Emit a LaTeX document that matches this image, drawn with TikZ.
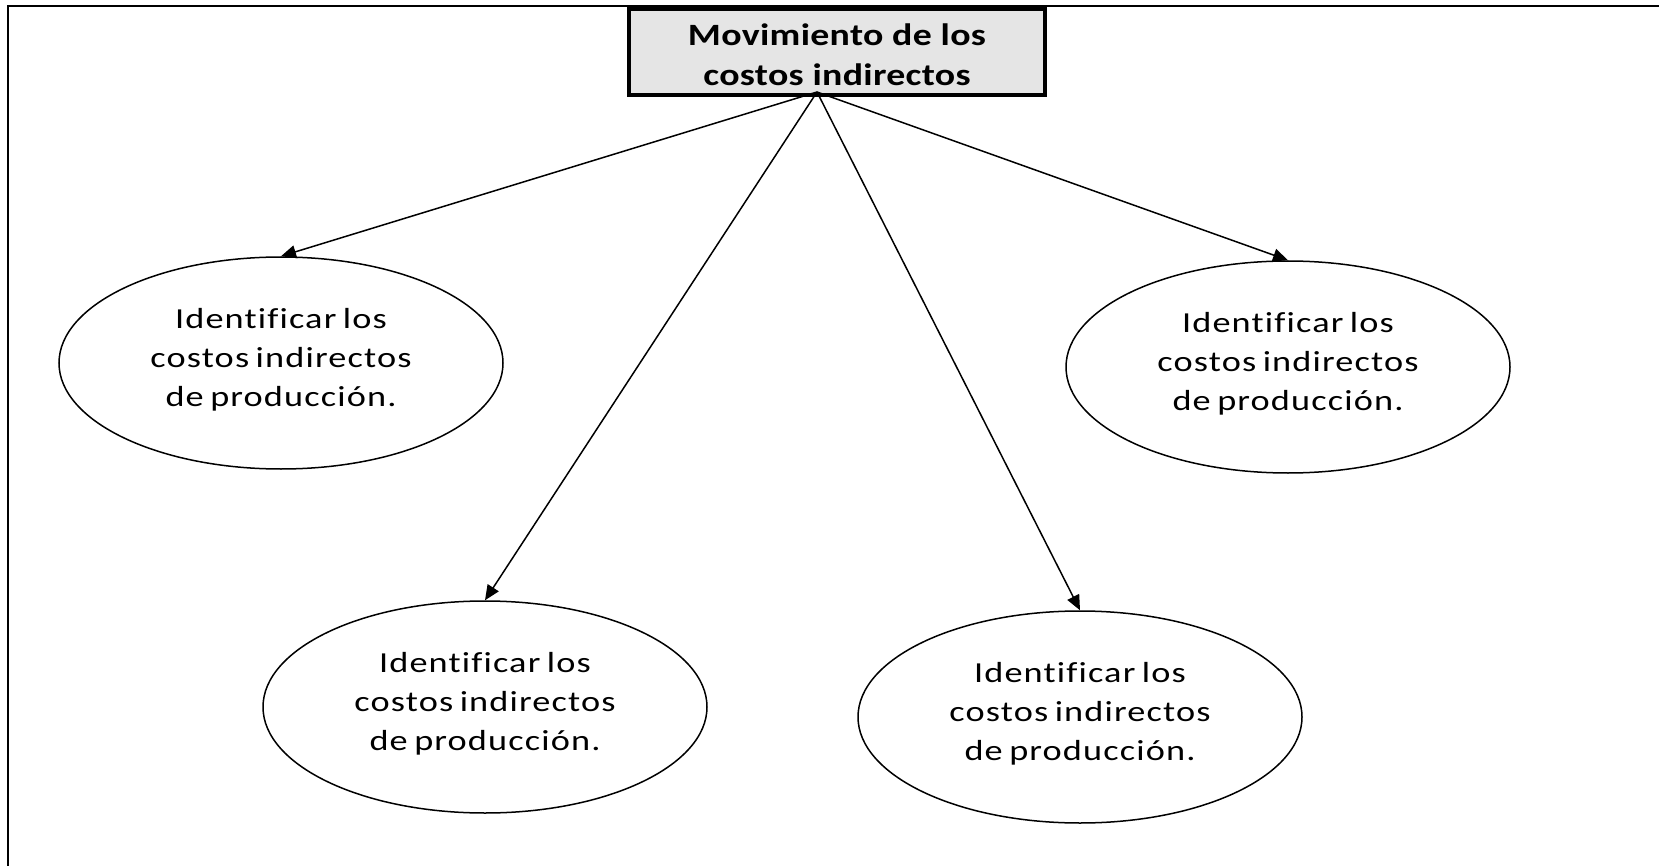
\documentclass[tikz,border=0pt]{standalone}
\usepackage{fontspec}
\setmainfont{Carlito}
\newfontfamily\ovalfont[FakeStretch=1.25,LetterSpace=4,WordSpace=0.7,Ligatures=NoCommon]{Carlito}
\newfontfamily\headfont[FakeStretch=1.22,LetterSpace=1,Ligatures=NoCommon]{Carlito}
\newcommand\lowstrut{\rule[-12pt]{0pt}{0pt}}
\usetikzlibrary{shapes.geometric,arrows.meta}
\begin{document}
\begin{tikzpicture}[x=1pt,y=-1pt,
  oval/.style={ellipse,draw,line width=1.5pt,minimum width=444pt,minimum height=212pt,inner sep=0pt,
    align=center,font=\ovalfont\fontsize{29}{39}\selectfont},
  titlebox/.style={draw,line width=3.5pt,fill=gray!20,minimum width=416pt,minimum height=86pt,inner sep=0pt,
    align=center,font=\headfont\bfseries\fontsize{31}{40}\selectfont},
  conn/.style={line width=1.5pt,-{Triangle[length=15pt,width=13pt]}}]
\useasboundingbox (0,0) rectangle (1659,866);
\draw[line width=2.2pt] (8,866) -- (8,6) -- (1659,6);
\node[titlebox] (top) at (837,52) {};
\node[font=\headfont\bfseries\fontsize{31}{40}\selectfont,align=center,inner sep=0pt] (toptext) at (837,55) {Movimiento de los\\costos indirectos};
\coordinate (src) at (817,92);
\node[oval] (e1) at (281,363) {Identificar los\\costos indirectos\\de producción.\lowstrut};
\node[oval] (e2) at (485,707) {Identificar los\\costos indirectos\\de producción.\lowstrut};
\node[oval] (e3) at (1080,717) {Identificar los\\costos indirectos\\de producción.\lowstrut};
\node[oval] (e4) at (1288,367) {Identificar los\\costos indirectos\\de producción.\lowstrut};
\draw[conn] (src) -- (e1.north);
\draw[conn] (src) -- (e2.north);
\draw[conn] (src) -- (e3.north);
\draw[conn] (src) -- (e4.north);
\end{tikzpicture}
\end{document}
